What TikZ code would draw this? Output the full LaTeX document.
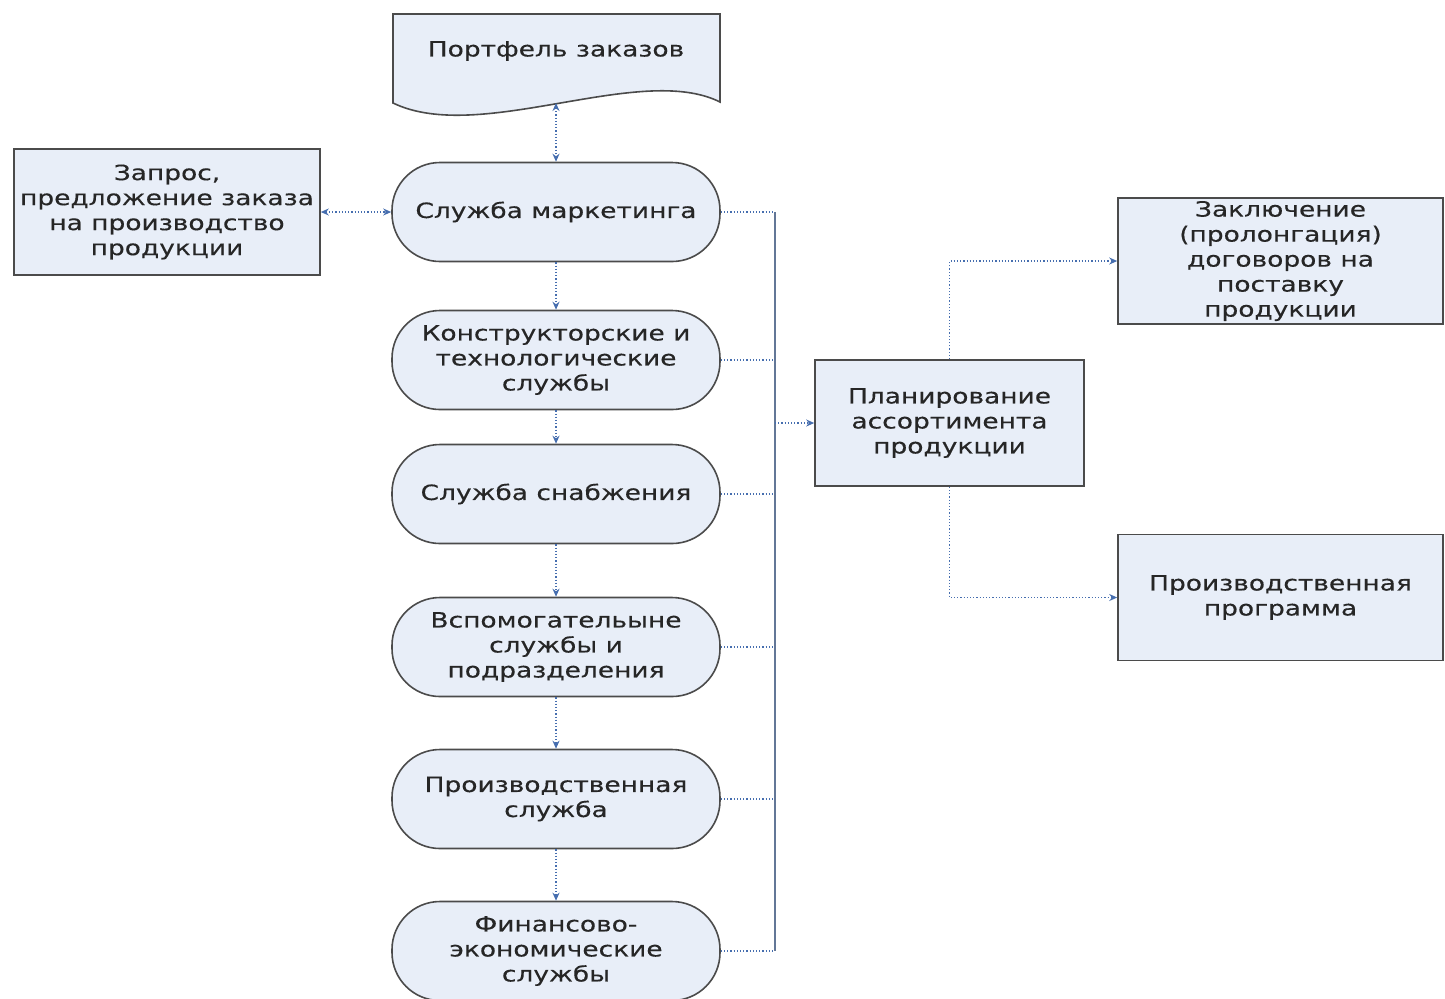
\documentclass[tikz,border=0pt]{standalone}
\usepackage{fontspec}
\setmainfont[FakeStretch=1.26, FakeBold=0.3]{DejaVu Sans}
\usetikzlibrary{arrows.meta}
\definecolor{boxfill}{RGB}{232,238,248}
\definecolor{boxline}{RGB}{75,75,75}
\definecolor{linkblue}{RGB}{70,110,175}
\begin{document}
\begin{tikzpicture}[x=0.5pt, y=-0.5pt, >={Stealth[length=4pt, width=3.5pt]},
  every node/.style={font=\fontsize{10.5}{12.5}\selectfont, text=black!85, align=center, inner sep=0pt},
  box/.style={draw=boxline, fill=boxfill, line width=0.8pt, minimum width=#1, minimum height=63pt},
  box/.default=153pt,
  service/.style={draw=boxline, fill=boxfill, line width=0.8pt, rounded corners=24pt, minimum width=164pt, minimum height=49.5pt},
  link/.style={draw=linkblue, line width=0.6pt, densely dotted}]

\useasboundingbox (0,0) rectangle (1445,998);

% portfolio of orders (document shape)
\draw [draw=boxline, fill=boxfill, line width=0.8pt] (393,14) -- (720,14) -- (720,102)
  .. controls (640,62) and (480,145) .. (393,103) -- cycle;
\node (portf) at (556,51) {Портфель заказов};
\coordinate (portfb) at (556,103);

\foreach \n/\y/\t in {mkt/212/{Служба маркетинга},
  des/360/{Конструкторские и\\технологические\\службы},
  sup/494/{Служба снабжения},
  aux/647/{Вспомогательыне\\службы и\\подразделения},
  prod/799/{Производственная\\служба},
  fin/951/{Финансово-\\экономические\\службы}}
\node [service] (\n) at (556,\y) {\t};

\foreach \a/\b in {mkt/des, des/sup, sup/aux, aux/prod, prod/fin}
\draw [link, ->] (\a) -- (\b);

\draw [link, <->] (portfb) -- (mkt);

\node [box] (req) at (167,212) {Запрос,\\предложение заказа\\на производство\\продукции};
\draw [link, <->] (req) -- (mkt);

% collecting line
\coordinate (busx) at (775,212);
\foreach \n in {mkt,des,sup,aux,prod,fin}
\draw [link] (\n.east) -- (\n.east -| busx);
\draw [draw=linkblue!50!gray, line width=0.6pt] (mkt.east -| busx) -- (fin.east -| busx);

\node [box=134.5pt] (plan) at (949.5,423) {Планирование\\ассортимента\\продукции};
\draw [link, ->] (plan.west -| busx) -- (plan);

\node [box=162.5pt] (contr) at (1280.5,261) {Заключение\\(пролонгация)\\договоров на\\поставку\\продукции};
\node [box=162.5pt] (prog) at (1280.5,597.5) {Производственная\\программа};

\draw [link, ->] (plan.north) |- (contr);
\draw [link, ->] (plan.south) |- (prog);
\end{tikzpicture}
\end{document}
